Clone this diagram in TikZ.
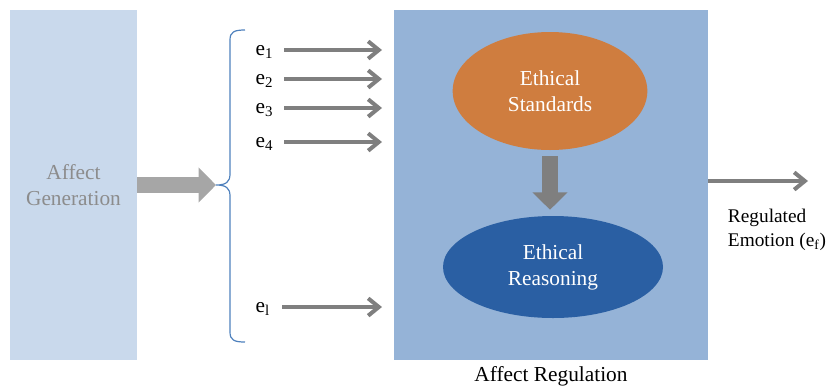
\documentclass[tikz,border=0pt]{standalone}
\usepackage{fontspec}
\setmainfont{Liberation Serif}
\usepackage{tikz}
\usetikzlibrary{positioning,shapes.geometric,arrows.meta}
\definecolor{genblue}{HTML}{C9D9EC}
\definecolor{regblue}{HTML}{95B3D7}
\definecolor{stdorange}{HTML}{CF7D3F}
\definecolor{reasonblue}{HTML}{2A5FA3}
\definecolor{bracecol}{HTML}{4F81BD}
\definecolor{flowgray}{HTML}{7F7F7F}
\definecolor{textgray}{HTML}{8C8C8C}

\begin{document}
\begin{tikzpicture}[
    x=0.75pt, y=-0.75pt,
    font=\fontsize{16}{19.5}\selectfont,
    stage/.style={
        draw=none,
        minimum height=262.5pt,
        align=center
    },
    bubble/.style={
        ellipse,
        draw=none,
        text=white,
        align=center
    },
    elabel/.style={
        inner sep=1pt,
        anchor=base west
    },
    flow/.style={
        draw=flowgray,
        line width=3pt,
        -{Straight Barb[length=8pt,width=13pt]}
    },
    bigflow/.style={
        line width=12pt,
        -{Triangle[length=13pt,width=25.5pt]}
    }
    ]

    \useasboundingbox (0,0) rectangle (830,390);

    \node[stage, fill=genblue, text=textgray, minimum width=95.25pt] (gen) at (73.5,185) {Affect\\Generation};
    \node[stage, fill=regblue, minimum width=235.5pt] (reg) at (551,185) {};
    \node[below=1pt of reg] (reg_label) {Affect Regulation};

    \node[bubble, fill=stdorange, minimum width=146pt, minimum height=88.5pt] (standards) at (550,91) {Ethical\\Standards};
    \node[bubble, fill=reasonblue, minimum width=165pt, minimum height=76.5pt] (reasoning) at (553,267) {Ethical\\Reasoning};
    \draw[bigflow, draw=flowgray, shorten <=4.5pt, shorten >=4.5pt] (standards.south) -- (standards.south |- reasoning.north);

    \coordinate (brace_tip) at (216,185);
    \coordinate (brace_top) at (245,30);
    \coordinate (brace_bot) at (245,342);
    \draw[bigflow, draw=black!35] (gen.east |- brace_tip) -- (brace_tip);
    \draw[bracecol, line width=0.9pt] (brace_top) .. controls (234,30) and (230,32) .. (230,40)
        -- (230,174) .. controls (230,182) and (226,185) .. (brace_tip)
        .. controls (226,185) and (230,188) .. (230,196)
        -- (230,332) .. controls (230,340) and (234,342) .. (brace_bot);

    \node[elabel] (e_1) at (254,55) {e\textsubscript{1}};
    \node[elabel] (e_2) at (254,84) {e\textsubscript{2}};
    \node[elabel] (e_3) at (254,113) {e\textsubscript{3}};
    \node[elabel] (e_4) at (254,147) {e\textsubscript{4}};
    \node[elabel] (e_l) at (254,312) {e\textsubscript{l}};
    \coordinate (in_1) at (382,50);
    \coordinate (in_2) at (382,79);
    \coordinate (in_3) at (382,108);
    \coordinate (in_4) at (382,142);
    \coordinate (in_l) at (382,307);
    \draw[flow] (in_1 -| 284,0) -- (in_1);
    \draw[flow] (in_2 -| 284,0) -- (in_2);
    \draw[flow] (in_3 -| 284,0) -- (in_3);
    \draw[flow] (in_4 -| 284,0) -- (in_4);
    \draw[flow] (in_l -| 282,0) -- (in_l);

    \coordinate (out) at (808,181);
    \draw[flow] (reg.east |- out) -- (out);
    \node[anchor=west, align=left, inner xsep=2pt, font=\fontsize{14.5}{18}\selectfont] (emotion) at (725,230) {Regulated\\Emotion (e\textsubscript{f})};
\end{tikzpicture}
\end{document}
